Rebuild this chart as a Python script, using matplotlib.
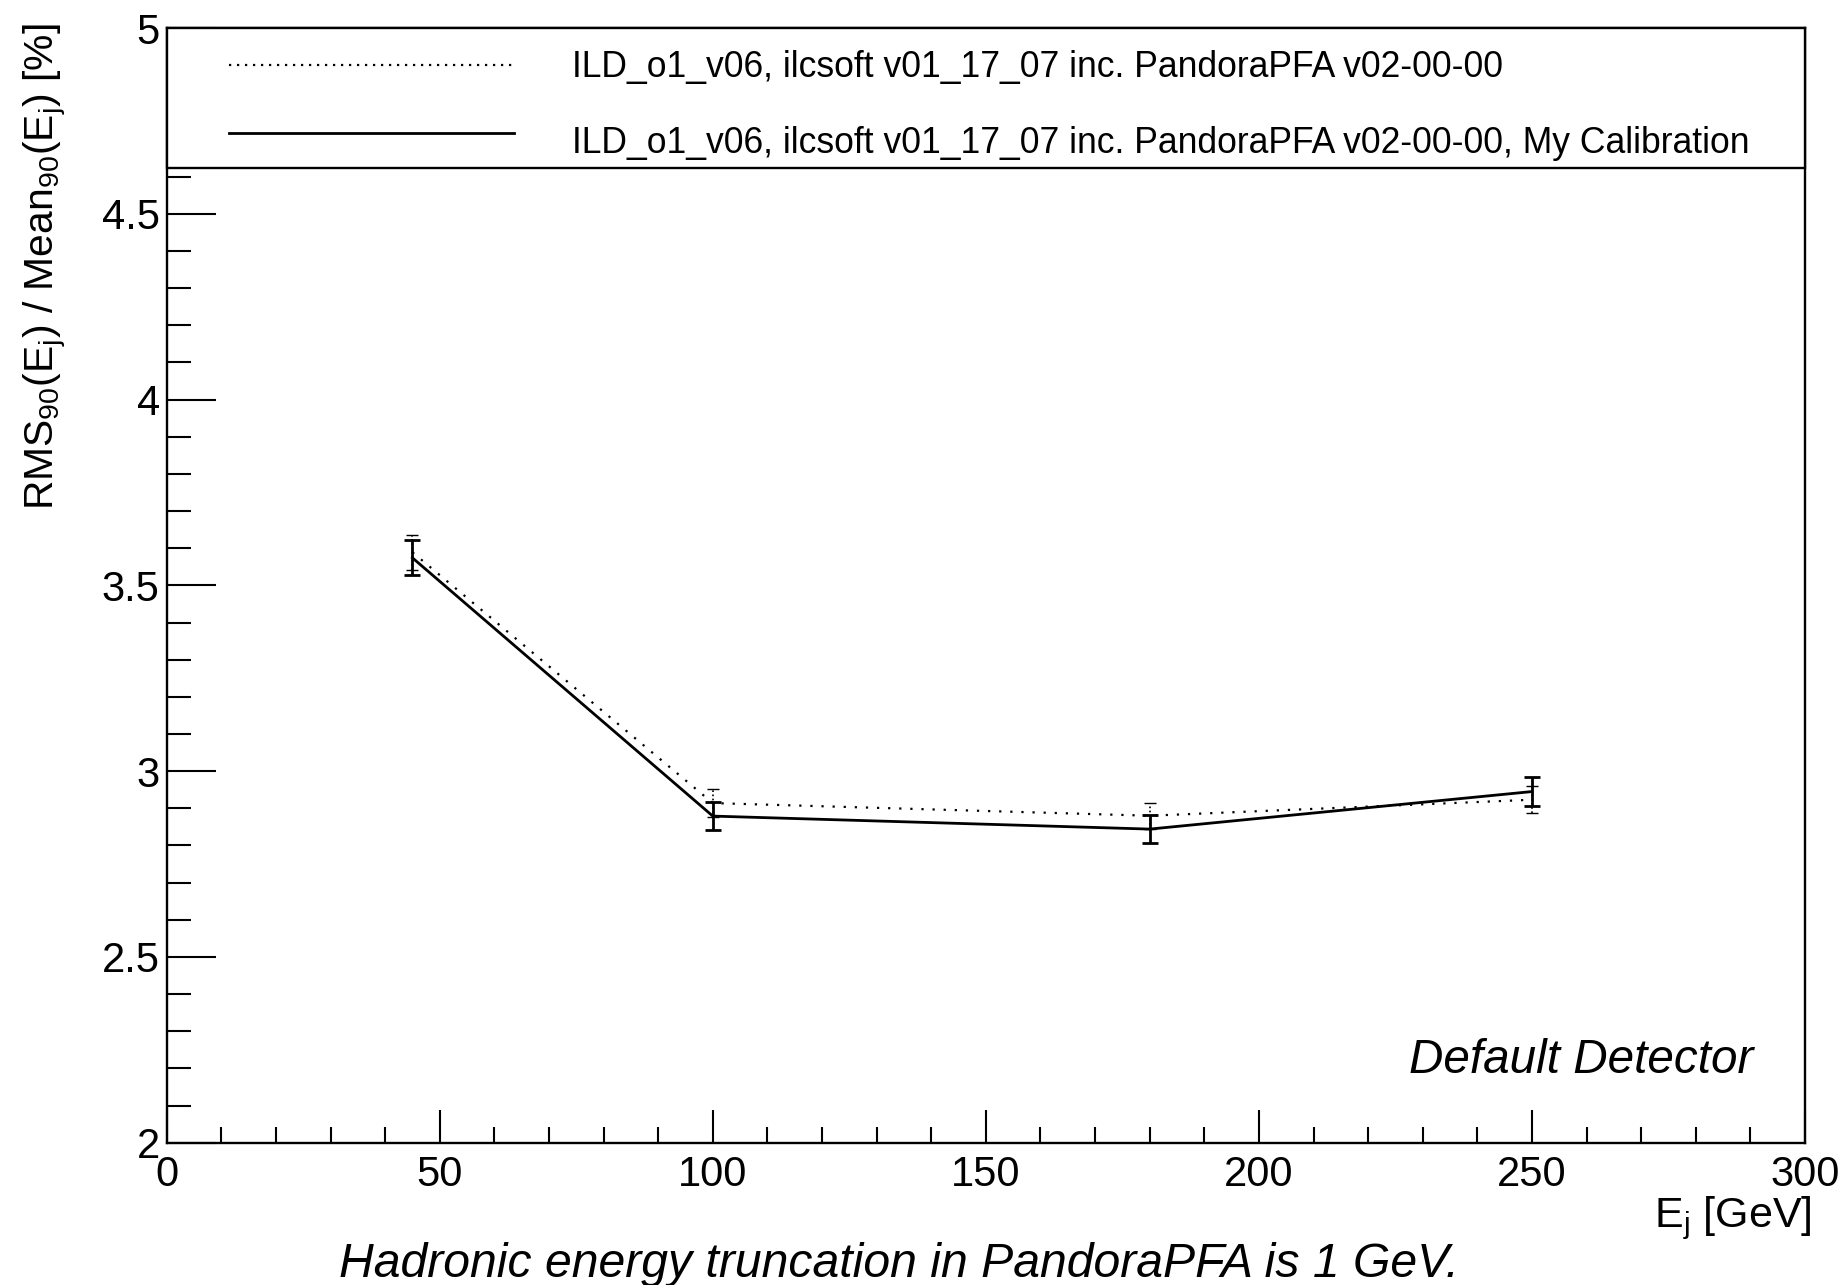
import matplotlib
matplotlib.use("Agg")
import matplotlib.pyplot as plt
from matplotlib.patches import Rectangle
from matplotlib.lines import Line2D
from matplotlib.ticker import MultipleLocator, FuncFormatter

plt.rcParams["font.family"] = ["Liberation Sans", "DejaVu Sans"]
plt.rcParams["mathtext.fontset"] = "custom"
plt.rcParams["mathtext.rm"] = "Liberation Sans"
plt.rcParams["mathtext.it"] = "Liberation Sans:italic"
plt.rcParams["mathtext.bf"] = "Liberation Sans:bold"

# Jet energies [GeV] and jet energy resolution [%]
jet_energy = [45, 100, 180, 250]
res_default = [3.589, 2.914, 2.880, 2.923]
err_default = [0.047, 0.038, 0.035, 0.037]
res_mycalib = [3.574, 2.879, 2.844, 2.945]
err_mycalib = [0.047, 0.037, 0.038, 0.038]

label_default = "ILD_o1_v06, ilcsoft v01_17_07 inc. PandoraPFA v02-00-00"
label_mycalib = "ILD_o1_v06, ilcsoft v01_17_07 inc. PandoraPFA v02-00-00, My Calibration"

W, H = 1845, 1285
fig = plt.figure(figsize=(W / 100, H / 100), dpi=100)
ax_l, ax_r, ax_t, ax_b = 166.7, 1805, 28, 1142.7
ax = fig.add_axes([ax_l / W, 1 - ax_b / H, (ax_r - ax_l) / W, (ax_b - ax_t) / H])

ax.set_xlim(0, 300)
ax.set_ylim(2, 5)

# Dotted series
eb1 = ax.errorbar(jet_energy, res_default, yerr=err_default, color="black",
                  lw=1.6, ls=(0, (1, 4)), capsize=4, capthick=1.0,
                  elinewidth=1.2, zorder=3)
for bc in eb1[2]:
    bc.set_linestyle((0, (1, 1.5)))

# Solid series
ax.errorbar(jet_energy, res_mycalib, yerr=err_mycalib, color="black",
            lw=2.0, ls="-", capsize=6, capthick=2.0, elinewidth=2.0, zorder=4)

# Ticks
ax.xaxis.set_major_locator(MultipleLocator(50))
ax.xaxis.set_minor_locator(MultipleLocator(10))
ax.yaxis.set_major_locator(MultipleLocator(0.5))
ax.yaxis.set_minor_locator(MultipleLocator(0.1))
ax.tick_params(axis="x", which="both", direction="in", top=False, bottom=True,
               labelsize=30, pad=9, width=1.5)
ax.tick_params(axis="x", which="major", length=24)
ax.tick_params(axis="x", which="minor", length=11.5)
ax.tick_params(axis="y", which="both", direction="in", left=True, right=False,
               labelsize=30, pad=5, width=1.5)
ax.tick_params(axis="y", which="major", length=35)
ax.tick_params(axis="y", which="minor", length=17.3)
ax.xaxis.set_major_formatter(FuncFormatter(lambda v, p: f"{v:g}"))
ax.yaxis.set_major_formatter(FuncFormatter(lambda v, p: f"{v:g}"))
for s in ax.spines.values():
    s.set_linewidth(1.7)

# Legend panel across the top of the frame
leg_bottom = (ax_b - 168) / (ax_b - ax_t)
ax.add_patch(Rectangle((0, leg_bottom), 1, 1 - leg_bottom, transform=ax.transAxes,
                       facecolor="white", edgecolor="black", lw=1.7,
                       zorder=10, clip_on=False))
x0 = (229 - ax_l) / (ax_r - ax_l)
x1 = (514 - ax_l) / (ax_r - ax_l)
xt = (571.7 - ax_l) / (ax_r - ax_l)
yl1 = (ax_b - 65) / (ax_b - ax_t)
yl2 = (ax_b - 133) / (ax_b - ax_t)
ax.add_line(Line2D([x0, x1], [yl1, yl1], transform=ax.transAxes, color="black",
                   lw=1.6, ls=(0, (1, 2.6)), zorder=11, clip_on=False))
ax.add_line(Line2D([x0, x1], [yl2, yl2], transform=ax.transAxes, color="black",
                   lw=2.0, ls="-", zorder=11, clip_on=False))
ax.text(xt, (ax_b - 77.5) / (ax_b - ax_t), label_default, transform=ax.transAxes,
        fontsize=25.6, va="baseline", ha="left", zorder=12)
ax.text(xt, (ax_b - 153.3) / (ax_b - ax_t), label_mycalib, transform=ax.transAxes,
        fontsize=25.6, va="baseline", ha="left", zorder=12)

ax.text((1753 - ax_l) / (ax_r - ax_l), (ax_b - 1073) / (ax_b - ax_t),
        "Default Detector", transform=ax.transAxes, fontsize=34.3,
        style="italic", ha="right", va="baseline")

# Axis titles
fig.text(22 / W, 1 - 23 / H,
         r"RMS$_{90}$(E$_{\mathregular{j}}$) / Mean$_{90}$(E$_{\mathregular{j}}$) [%]",
         rotation=90, ha="left", va="top", fontsize=29.3)
fig.text(1812 / W, 1 - 1227 / H, r"E$_{\mathregular{j}}$ [GeV]",
         ha="right", va="baseline", fontsize=31)

fig.text(899 / W, 1 - 1277 / H, "Hadronic energy truncation in PandoraPFA is 1 GeV.",
         ha="center", va="baseline", fontsize=34.7, style="italic")

fig.savefig("out.png", dpi=100, facecolor="white")
